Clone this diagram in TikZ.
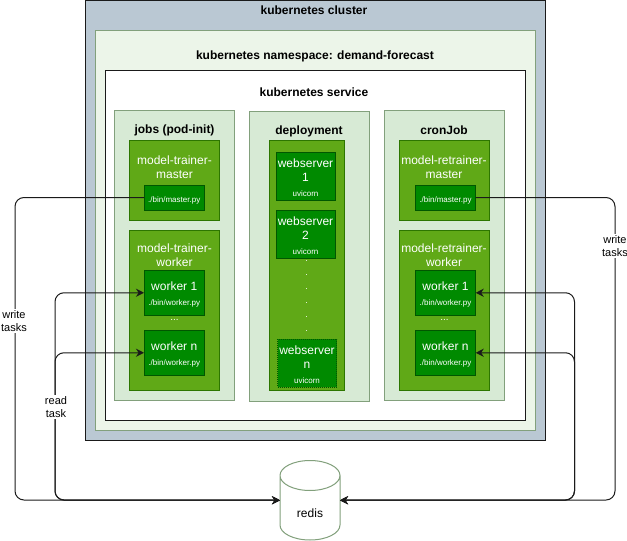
\documentclass[tikz,border=0pt]{standalone}
\usepackage{fontspec}
\setmainfont{Liberation Sans}
\usetikzlibrary{arrows.meta}

\definecolor{clusterfill}{HTML}{BAC8D3}
\definecolor{nsfill}{HTML}{ECF5E9}
\definecolor{podfill}{HTML}{D7EAD5}
\definecolor{podline}{HTML}{82A07C}
\definecolor{jobfill}{HTML}{60A917}
\definecolor{jobline}{HTML}{2D7600}
\definecolor{procfill}{HTML}{008A00}
\definecolor{procline}{HTML}{005700}
\definecolor{inkline}{HTML}{1A1A1A}

\newcommand{\tinytext}[1]{{\fontsize{8}{10}\selectfont #1}}

\tikzset{
  box/.style={inner sep=0pt, outer sep=0pt, line width=1pt, align=center},
  clusterbox/.style={box, draw=inkline, fill=clusterfill},
  nsbox/.style={box, draw=podline, fill=nsfill},
  servicebox/.style={box, draw=inkline, fill=white},
  podbox/.style={box, draw=podline, fill=podfill},
  jobbox/.style={box, draw=jobline, fill=jobfill, minimum width=90, text=white},
  procbox/.style={box, draw=procline, fill=procfill, minimum width=60.5, text=white, font=\fontsize{12}{14}\selectfont},
  scriptbox/.style={procbox, minimum height=25, text height=10, text depth=1},
  workerbox/.style={procbox, minimum height=45.5, text height=27.5, text depth=2},
  webbox/.style={procbox, minimum width=59, minimum height=48, text height=42, text depth=2},
  title/.style={inner sep=0pt, align=center, font=\fontsize{12}{14}\selectfont\bfseries},
  whitetitle/.style={inner sep=0pt, align=center, text=white, font=\fontsize{12}{14}\selectfont},
  link/.style={draw=inkline, line width=1pt, rounded corners=9, -{Stealth[length=8, width=8]}},
  bothlink/.style={link, {Stealth[length=8, width=8]}-{Stealth[length=8, width=8]}},
  linklabel/.style={inner sep=1pt, fill=white, align=center, font=\fontsize{11}{13}\selectfont}
}

\begin{document}
\begin{tikzpicture}[x=1pt, y=-1pt]
  \useasboundingbox (0,0) rectangle (627,541);

  \node[clusterbox, minimum width=460, minimum height=440] (cluster) at (315,220) {};
  \node[nsbox, minimum width=440, minimum height=400] (namespace) at (315,230) {};
  \node[servicebox, minimum width=420, minimum height=350] (service) at (315,245) {};
  \node[title] (clustertitle) at (314,10.5) {kubernetes cluster};
  \node[title] (namespacetitle) at (315,56) {kubernetes namespace: demand-forecast};
  \node[title] (servicetitle) at (314,92) {kubernetes service};

  \node[podbox, minimum width=120, minimum height=290] (jobs) at (174.5,255) {};
  \node[podbox, minimum width=120, minimum height=290] (deployment) at (309.5,256) {};
  \node[podbox, minimum width=120, minimum height=290] (cronjob) at (444.5,255) {};
  \node[title] (jobstitle) at (174.5,130) {jobs (pod-init)};
  \node[title] (deploymenttitle) at (309,131) {deployment};
  \node[title] (cronjobtitle) at (444,130) {cronJob};

  \node[jobbox, minimum height=80] (trainermaster) at (174.5,180) {};
  \node[jobbox, minimum height=160] (trainerworker) at (174.5,310) {};
  \node[whitetitle] (trainermastertitle) at (174.5,167) {model-trainer-\\master};
  \node[whitetitle] (trainerworkertitle) at (174.5,255) {model-trainer-\\worker};
  \node[scriptbox] (trainerpy) at (174.25,197.5) {\tinytext{./bin/master.py}};
  \node[workerbox] (trainerone) at (174.25,292.75) {worker 1\\[1pt]\tinytext{./bin/worker.py}};
  \node[workerbox] (trainern) at (174.25,352.75) {worker n\\[1pt]\tinytext{./bin/worker.py}};
  \node[whitetitle, font=\fontsize{10}{12}\selectfont] (trainerdots) at (174.5,320) {...};

  \node[box, draw=jobline, fill=jobfill, minimum width=75, minimum height=249.5] (webgroup) at (307,265.25) {};
  \node[webbox] (webone) at (305.5,176) {webserver\\1\\[1pt]\tinytext{uvicorn}};
  \node[webbox] (webtwo) at (305.5,234) {webserver\\2\\[1pt]\tinytext{uvicorn}};
  \node[webbox, densely dotted] (webn) at (307,363) {webserver\\n\\[1pt]\tinytext{uvicorn}};
  \node[whitetitle, font=\fontsize{9}{14}\selectfont] (webdots) at (306.5,296.5) {.\\.\\.\\.\\.\\.};

  \node[jobbox, minimum height=80] (retrainermaster) at (444.5,180) {};
  \node[jobbox, minimum height=160] (retrainerworker) at (444.5,310) {};
  \node[whitetitle] (retrainermastertitle) at (444,167) {model-retrainer-\\master};
  \node[whitetitle] (retrainerworkertitle) at (444,255) {model-retrainer-\\worker};
  \node[scriptbox] (retrainerpy) at (445.5,197.5) {\tinytext{./bin/master.py}};
  \node[workerbox] (retrainerone) at (445.5,292.75) {worker 1\\[1pt]\tinytext{./bin/worker.py}};
  \node[workerbox] (retrainern) at (445.5,352.75) {worker n\\[1pt]\tinytext{./bin/worker.py}};
  \node[whitetitle, font=\fontsize{10}{12}\selectfont] (retrainerdots) at (444.5,320) {...};

  \node[box, fill=white, minimum width=60, minimum height=79.5] (redis) at (310,500.25) {};
  \draw[draw=podline, line width=1pt] (redis.north west) ++(0,15)
    arc[start angle=180, end angle=0, x radius=30, y radius=15]
    arc[start angle=360, end angle=180, x radius=30, y radius=15]
    -- ++(0,49.5)
    arc[start angle=180, end angle=360, x radius=30, y radius=-15]
    -- ++(0,-49.5);
  \node[inner sep=0pt, font=\fontsize{12}{14}\selectfont] (redislabel) at (310,513) {redis};

  \coordinate (writeleft) at (15,500);
  \coordinate (readleft) at (55,500);
  \coordinate (readright) at (574.5,500);
  \coordinate (writeright) at (615,500);

  \draw[link] (trainerpy.west) -| (writeleft) -- (redis.west);
  \draw[bothlink] (trainerone.west) -| (readleft) -- (redis.west);
  \draw[bothlink] (trainern.west) -| (readleft) -- (redis.west);
  \draw[link] (retrainerpy.east) -| (writeright) -- (redis.east);
  \draw[bothlink] (retrainerone.east) -| (readright) -- (redis.east);
  \draw[bothlink] (retrainern.east) -| (readright) -- (redis.east);

  \node[linklabel] (writeleftlabel) at (14,321) {write\\tasks};
  \node[linklabel] (readleftlabel) at (56,407) {read\\task};
  \node[linklabel] (writerightlabel) at (615,246) {write\\tasks};
\end{tikzpicture}
\end{document}
